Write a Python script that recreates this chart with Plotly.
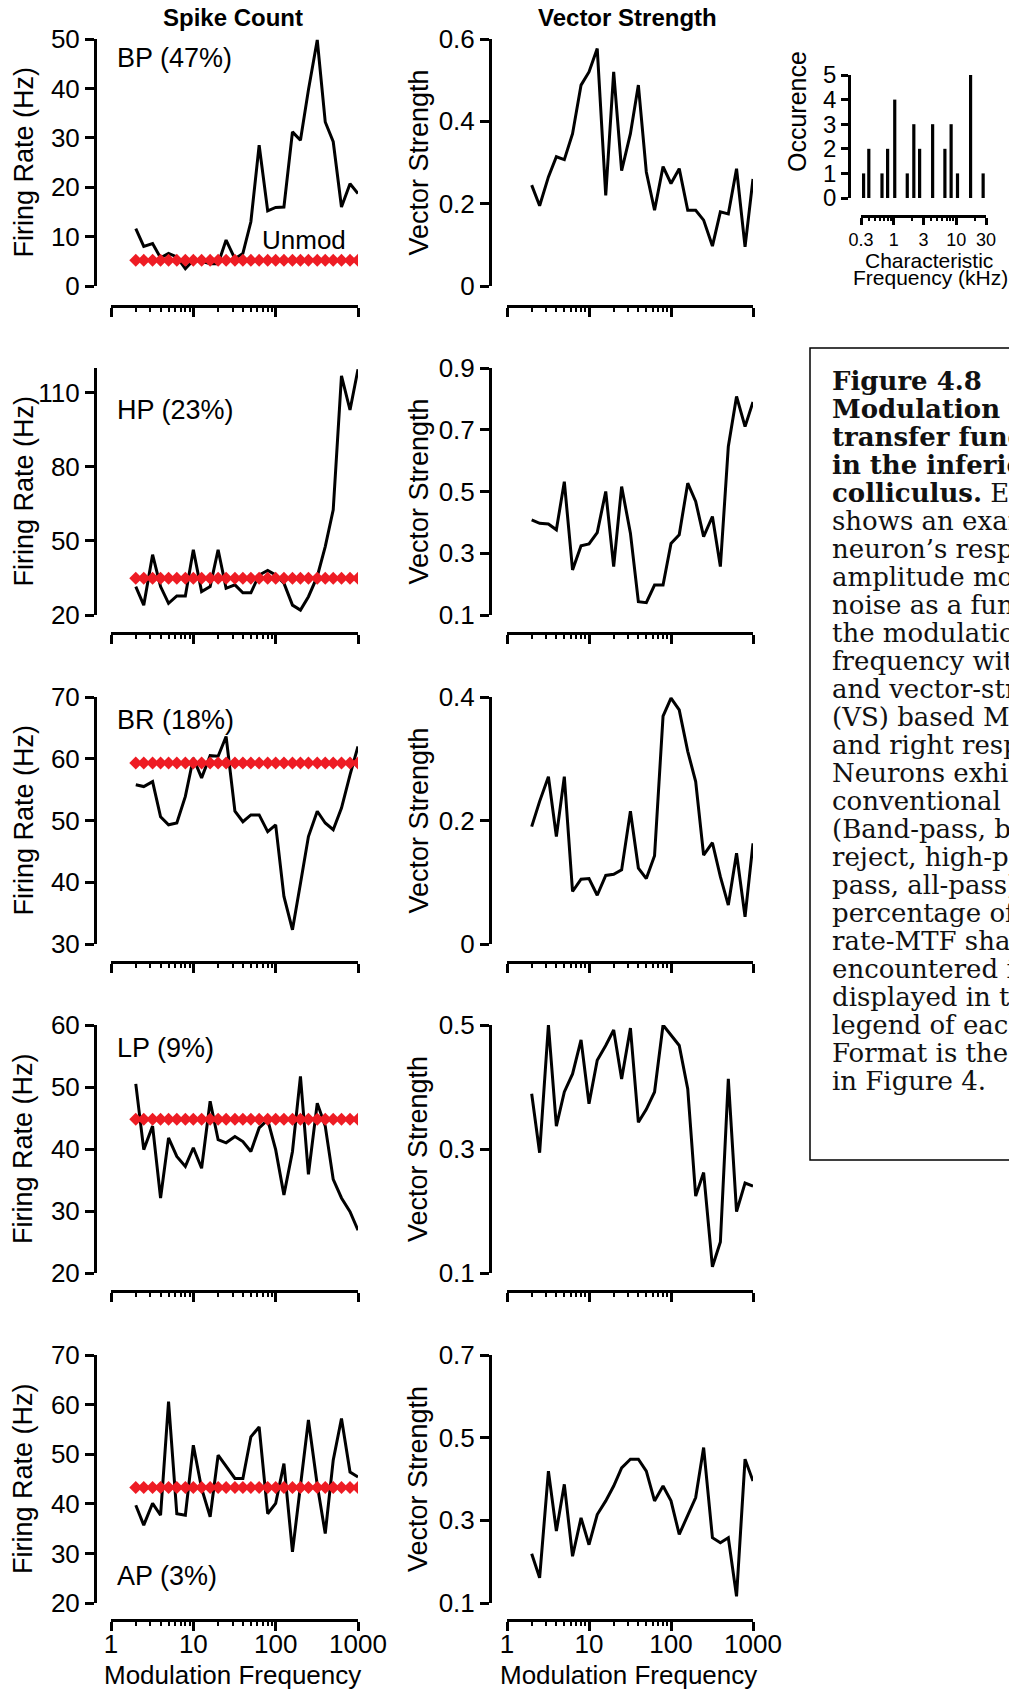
import math
import plotly.graph_objects as go

W, H = 1009, 1692

# ---------------- data ----------------
FREQ = [2, 2.5, 3.2, 4, 5, 6.3, 8, 10, 12.6, 16, 20, 25, 32, 40, 50, 63, 80, 100,
        126, 160, 200, 250, 320, 400, 500, 630, 800, 1000]

FR_BP = [11.6, 8.0, 8.6, 5.7, 6.6, 5.9, 3.5, 5.2, 5.0, 4.5, 4.5, 9.3, 5.5, 6.6, 13.0, 28.5,
         15.2, 15.9, 16.0, 31.2, 29.5, 39.7, 49.8, 33.2, 29.2, 16.0, 20.7, 18.7]
VS_BP = [0.245, 0.195, 0.265, 0.314, 0.307, 0.37, 0.488, 0.52, 0.577, 0.22, 0.52, 0.28, 0.37, 0.488,
         0.277, 0.184, 0.29, 0.249, 0.285, 0.184, 0.184, 0.16, 0.097, 0.18, 0.175, 0.285, 0.095, 0.26]
UNMOD_BP = 5.2

FR_HP = [31.5, 24.0, 44.4, 31.5, 24.7, 27.7, 27.7, 46.4, 29.5, 31.5, 46.4, 30.8, 32.2, 29.0,
         29.0, 36.2, 38.0, 36.2, 32.9, 24.0, 22.0, 27.4, 35.6, 47.7, 62.6, 116.8, 103.0, 119.5]
VS_HP = [0.408, 0.397, 0.395, 0.376, 0.532, 0.246, 0.324, 0.33, 0.367, 0.5, 0.257, 0.516, 0.365,
         0.143, 0.14, 0.197, 0.197, 0.332, 0.36, 0.527, 0.468, 0.354, 0.419, 0.257, 0.646, 0.808,
         0.71, 0.79]
UNMOD_HP = 34.9

FR_BR = [55.8, 55.5, 56.3, 50.6, 49.3, 49.6, 53.9, 60.1, 56.9, 60.5, 60.4, 63.6, 51.5, 49.8,
         50.9, 50.9, 48.2, 49.3, 37.7, 32.3, 39.8, 47.4, 51.5, 49.6, 48.5, 52.0, 57.4, 62.0]
VS_BR = [0.19, 0.231, 0.271, 0.174, 0.271, 0.085, 0.105, 0.106, 0.079, 0.111, 0.113, 0.12, 0.215,
         0.123, 0.106, 0.143, 0.369, 0.398, 0.379, 0.312, 0.263, 0.144, 0.164, 0.109, 0.063,
         0.147, 0.044, 0.163]
UNMOD_BR = 59.3

FR_LP = [50.5, 39.9, 43.7, 32.1, 41.8, 38.8, 37.2, 40.2, 36.9, 47.7, 41.5, 41.0, 42.0, 41.2,
         39.6, 43.4, 44.7, 39.9, 32.6, 39.6, 51.7, 35.9, 47.4, 43.7, 35.1, 32.1, 29.9, 26.9]
VS_LP = [0.389, 0.294, 0.5, 0.337, 0.392, 0.421, 0.476, 0.373, 0.443, 0.467, 0.492, 0.413, 0.495,
         0.343, 0.364, 0.392, 0.5, 0.484, 0.467, 0.397, 0.224, 0.262, 0.11, 0.15, 0.413, 0.199,
         0.245, 0.24]
UNMOD_LP = 44.8

FR_AP = [39.7, 35.7, 40.1, 37.7, 60.6, 38.0, 37.7, 51.8, 43.1, 37.4, 49.8, 47.5, 45.1, 45.1,
         53.5, 55.5, 38.0, 40.1, 48.1, 30.3, 43.4, 56.9, 43.8, 34.0, 48.8, 57.2, 46.4, 45.4]
VS_AP = [0.219, 0.161, 0.419, 0.274, 0.387, 0.213, 0.306, 0.241, 0.314, 0.347, 0.383, 0.427,
         0.448, 0.448, 0.419, 0.347, 0.383, 0.347, 0.266, 0.31, 0.355, 0.476, 0.258, 0.246,
         0.258, 0.116, 0.448, 0.395]
UNMOD_AP = 43.3

ROW_LABELS = ["BP (47%)", "HP (23%)", "BR (18%)", "LP (9%)", "AP (3%)"]

FR_RANGES = [[0, 50], [20, 120], [30, 70], [20, 60], [20, 70]]
FR_TICKS = [[0, 10, 20, 30, 40, 50], [20, 50, 80, 110], [30, 40, 50, 60, 70],
            [20, 30, 40, 50, 60], [20, 30, 40, 50, 60, 70]]
VS_RANGES = [[0, 0.6], [0.1, 0.9], [0, 0.4], [0.1, 0.5], [0.1, 0.7]]
VS_TICKS = [["0", "0.2", "0.4", "0.6"], ["0.1", "0.3", "0.5", "0.7", "0.9"],
            ["0", "0.2", "0.4"], ["0.1", "0.3", "0.5"], ["0.1", "0.3", "0.5", "0.7"]]

X_TICKS = [1, 10, 100, 1000]
X_TICKTEXT = ["1", "10", "100", "1000"]
X_MINOR = [2, 3, 4, 5, 6, 7, 8, 9, 20, 30, 40, 50, 60, 70, 80, 90]

# histogram of characteristic frequency (kHz)
CF_KHZ = [0.33, 0.4, 0.65, 0.8, 1.04, 1.65, 2.1, 2.6, 4.2, 6.6, 8.3, 10.5, 17, 27]
CF_COUNT = [1, 2, 1, 2, 4, 1, 3, 2, 3, 2, 3, 1, 5, 1]
CF_TICKS = [0.3, 1, 3, 10, 30]
CF_TICKTEXT = ["0.3", "1", "3", "10", "30"]
CF_MINOR = [0.4, 0.5, 0.6, 0.7, 0.8, 0.9, 2, 4, 5, 6, 7, 8, 9, 20]

CAPTION = [
    "<b>Figure 4.8</b>",
    "<b>Modulation</b>",
    "<b>transfer functions</b>",
    "<b>in the inferior</b>",
    "<b>colliculus.</b> Each row",
    "shows an example",
    "neuron’s response to",
    "amplitude modulated",
    "noise as a function of",
    "the modulation",
    "frequency with rate-",
    "and vector-strength",
    "(VS) based MTFs on left",
    "and right respectively.",
    "Neurons exhibited",
    "conventional MTF",
    "(Band-pass, band-",
    "reject, high-pass, low-",
    "pass, all-pass). The",
    "percentage of each",
    "rate-MTF shape",
    "encountered is",
    "displayed in the",
    "legend of each panel.",
    "Format is the same as",
    "in Figure 4.",
]

# ---------------- layout geometry (pixels) ----------------
ROW_TOP = [39, 368, 697, 1025, 1355]
ROW_BOT = [286, 615, 944, 1273, 1603]
ROW_XLINE = [306, 633, 962, 1291, 1620]
LABEL_Y = [58, 410, 720, 1048, 1576]
COLS = [dict(yx=95, x0=111, x1=358, ylab_x=23, ytitle="Firing Rate (Hz)"),
        dict(yx=490, x0=507, x1=753, ylab_x=418, ytitle="Vector Strength")]

FONT = "Liberation Sans, Arial, Helvetica, sans-serif"
BLACK = "black"
RED = "#ee1c24"

fig = go.Figure()
layout = dict(
    template="none",
    width=W, height=H, autosize=False,
    margin=dict(l=0, r=0, t=0, b=0, pad=0, autoexpand=False),
    paper_bgcolor="white", plot_bgcolor="white",
    showlegend=False,
    font=dict(family=FONT, color=BLACK, size=26),
)
annotations = []
shapes = []


def px(x):
    return x / W


def py(y):
    return 1 - y / H


def names(i):
    if i == 1:
        return "x", "y", "xaxis", "yaxis"
    return f"x{i}", f"y{i}", f"xaxis{i}", f"yaxis{i}"


FR_DATA = [FR_BP, FR_HP, FR_BR, FR_LP, FR_AP]
VS_DATA = [VS_BP, VS_HP, VS_BR, VS_LP, VS_AP]
UNMODS = [UNMOD_BP, UNMOD_HP, UNMOD_BR, UNMOD_LP, UNMOD_AP]

AXIS_COMMON = dict(showgrid=False, zeroline=False, fixedrange=True, automargin=False)

panels = []
idx = 0
for r in range(5):
    for c in range(2):
        idx += 1
        panels.append((idx, r, c))

n_main = len(panels)
for (idx, r, c) in panels:
    xr, yr, xk, yk = names(idx)
    col = COLS[c]
    last = (r == 4)
    layout[xk] = dict(
        type="log", range=[0, 3],
        domain=[px(col["x0"]), px(col["x1"])],
        anchor="free", position=py(ROW_XLINE[r]),
        showline=True, linecolor=BLACK, linewidth=3,
        ticks="outside", ticklen=9, tickwidth=3, tickcolor=BLACK,
        tickvals=X_TICKS, ticktext=X_TICKTEXT, showticklabels=last,
        ticklabelstandoff=-9,
        tickfont=dict(size=26, family=FONT, color=BLACK),
        **AXIS_COMMON,
    )
    if c == 0:
        yrange = FR_RANGES[r]
        tv = FR_TICKS[r]
        tt = [str(v) for v in tv]
    else:
        yrange = VS_RANGES[r]
        tt = VS_TICKS[r]
        tv = [float(t) for t in tt]
    layout[yk] = dict(
        range=yrange,
        domain=[py(ROW_BOT[r]), py(ROW_TOP[r])],
        anchor="free", position=px(col["yx"]), side="left",
        showline=True, linecolor=BLACK, linewidth=3,
        ticks="outside", ticklen=9, tickwidth=3, tickcolor=BLACK,
        tickvals=tv, ticktext=tt,
        tickfont=dict(size=26, family=FONT, color=BLACK),
        **AXIS_COMMON,
    )
    yvals = FR_DATA[r] if c == 0 else VS_DATA[r]
    fig.add_trace(go.Scatter(x=FREQ, y=yvals, xaxis=xr, yaxis=yr, mode="lines",
                             line=dict(color=BLACK, width=3), hoverinfo="skip"))
    if c == 0:
        fig.add_trace(go.Scatter(x=FREQ, y=[UNMODS[r]] * len(FREQ), xaxis=xr, yaxis=yr,
                                 mode="lines+markers",
                                 line=dict(color=RED, width=2),
                                 marker=dict(symbol="diamond", size=10, color=RED),
                                 hoverinfo="skip"))
    annotations.append(dict(
        text=col["ytitle"], x=px(col["ylab_x"]), y=py((ROW_TOP[r] + ROW_BOT[r]) / 2),
        xref="paper", yref="paper", showarrow=False, textangle=-90,
        xanchor="center", yanchor="middle", font=dict(size=27, family=FONT, color=BLACK)))
    if last:
        annotations.append(dict(
            text="Modulation Frequency", x=px((col["x0"] + col["x1"]) / 2 - 2), y=py(1675),
            xref="paper", yref="paper", showarrow=False, xanchor="center", yanchor="middle",
            font=dict(size=26, family=FONT, color=BLACK)))
    if c == 0:
        annotations.append(dict(
            text=ROW_LABELS[r], x=px(115), y=py(LABEL_Y[r]), xref="paper", yref="paper",
            showarrow=False, xanchor="left", yanchor="middle",
            font=dict(size=27, family=FONT, color=BLACK)))

# minor-tick overlay axes (minor ticks only in the first two decades)
next_idx = n_main + 2
for (idx, r, c) in panels:
    xr, yr, xk, yk = names(idx)
    mxr, _, mxk, _ = names(next_idx)
    layout[mxk] = dict(
        type="log", range=[0, 3], overlaying=xr,
        anchor="free", position=py(ROW_XLINE[r]),
        showline=False, ticks="outside", ticklen=5, tickwidth=2, tickcolor=BLACK,
        tickvals=X_MINOR, showticklabels=False,
        **AXIS_COMMON,
    )
    fig.add_trace(go.Scatter(x=[], y=[], xaxis=mxr, yaxis=yr, mode="lines",
                             hoverinfo="skip"))
    next_idx += 1

annotations.append(dict(text="Unmod", x=px(304), y=py(240), xref="paper", yref="paper",
                        showarrow=False, xanchor="center", yanchor="middle",
                        font=dict(size=26, family=FONT, color=BLACK)))
annotations.append(dict(text="<b>Spike Count</b>", x=px(233), y=py(18), xref="paper",
                        yref="paper", showarrow=False, xanchor="center", yanchor="middle",
                        font=dict(size=24, family=FONT, color=BLACK)))
annotations.append(dict(text="<b>Vector Strength</b>", x=px(627), y=py(18), xref="paper",
                        yref="paper", showarrow=False, xanchor="center", yanchor="middle",
                        font=dict(size=24, family=FONT, color=BLACK)))

# ---------------- histogram ----------------
hidx = n_main + 1
xr, yr, xk, yk = names(hidx)
layout[xk] = dict(
    type="log", range=[math.log10(0.3), math.log10(30)],
    domain=[px(861), px(986)], anchor="free", position=py(216),
    showline=True, linecolor=BLACK, linewidth=2.5,
    ticks="outside", ticklen=7, tickwidth=2.5, tickcolor=BLACK,
    tickvals=CF_TICKS, ticktext=CF_TICKTEXT,
    tickfont=dict(size=18, family=FONT, color=BLACK),
    **AXIS_COMMON,
)
layout[yk] = dict(
    range=[0, 5], domain=[py(198), py(75)], anchor="free", position=px(849), side="left",
    showline=True, linecolor=BLACK, linewidth=2.5,
    ticks="outside", ticklen=7, tickwidth=2.5, tickcolor=BLACK,
    tickvals=[0, 1, 2, 3, 4, 5], ticktext=["0", "1", "2", "3", "4", "5"],
    tickfont=dict(size=24, family=FONT, color=BLACK),
    **AXIS_COMMON,
)
mxr, _, mxk, _ = names(next_idx)
layout[mxk] = dict(
    type="log", range=[math.log10(0.3), math.log10(30)], overlaying=xr,
    anchor="free", position=py(216),
    showline=False, ticks="outside", ticklen=4, tickwidth=1.5, tickcolor=BLACK,
    tickvals=CF_MINOR, showticklabels=False,
    **AXIS_COMMON,
)
fig.add_trace(go.Scatter(x=[], y=[], xaxis=mxr, yaxis=yr, mode="lines", hoverinfo="skip"))

bx, by = [], []
for f, n in zip(CF_KHZ, CF_COUNT):
    bx += [f, f, None]
    by += [0, n, None]
fig.add_trace(go.Scatter(x=bx, y=by, xaxis=xr, yaxis=yr, mode="lines",
                         line=dict(color=BLACK, width=3.2), hoverinfo="skip"))
annotations.append(dict(text="Occurence", x=px(797), y=py(112), xref="paper", yref="paper",
                        showarrow=False, textangle=-90, xanchor="center", yanchor="middle",
                        font=dict(size=25, family=FONT, color=BLACK)))
annotations.append(dict(text="Characteristic", x=px(929), y=py(260), xref="paper",
                        yref="paper", showarrow=False, xanchor="center", yanchor="middle",
                        font=dict(size=21, family=FONT, color=BLACK)))
annotations.append(dict(text="Frequency (kHz)", x=px(930), y=py(278), xref="paper",
                        yref="paper", showarrow=False, xanchor="center", yanchor="middle",
                        font=dict(size=21, family=FONT, color=BLACK)))

# ---------------- caption box ----------------
shapes.append(dict(type="rect", xref="paper", yref="paper", x0=px(810), x1=px(1100),
                   y0=py(1160), y1=py(348), line=dict(color=BLACK, width=1.5),
                   fillcolor="rgba(0,0,0,0)"))
for i, line in enumerate(CAPTION):
    annotations.append(dict(text=line, x=px(830), y=py(381 + i * 28.0), xref="paper",
                            yref="paper", showarrow=False, xanchor="left", yanchor="middle",
                            font=dict(size=26, family="DejaVu Serif, serif", color="#111111")))

layout["annotations"] = annotations
layout["shapes"] = shapes
fig.update_layout(**layout)

fig.write_html("out.html", config={"displayModeBar": False},
               post_script="document.body.style.margin='0';document.body.style.overflow='hidden';")
